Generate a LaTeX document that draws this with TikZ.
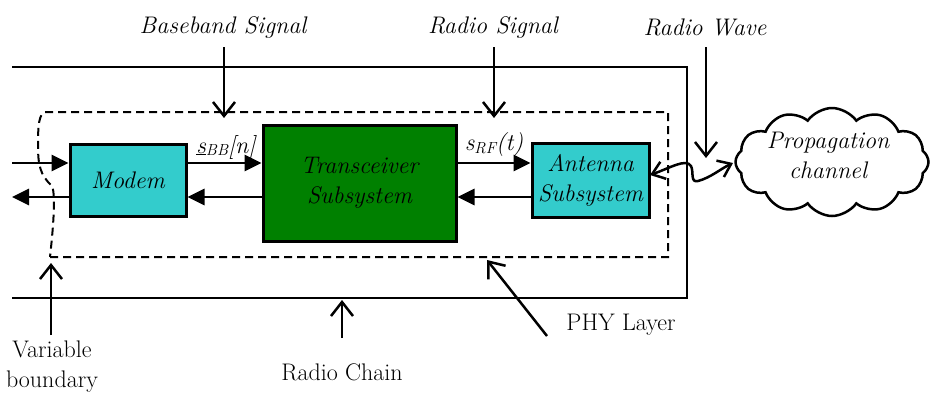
\documentclass[tikz,border=0pt]{standalone}
\usepackage{fontspec}
\usetikzlibrary{arrows.meta,shapes.symbols}
\definecolor{modemcyan}{HTML}{33CCCC}
\definecolor{trxgreen}{HTML}{008000}
\begin{document}
\begin{tikzpicture}[x=1pt,y=-1pt,
  font=\fontsize{24}{30}\selectfont,
  blk/.style={draw=black,line width=3pt,inner sep=0pt,align=center,font=\fontsize{24}{30}\selectfont\itshape},
  sig/.style={line width=2.8pt,-{Triangle[length=17pt,width=16pt]}},
  lbl/.style={line width=2.5pt,-{Straight Barb[length=14pt,width=22pt]}},
  txt/.style={inner sep=0pt,align=center},
  itxt/.style={inner sep=0pt,align=center,font=\fontsize{24}{30}\selectfont\itshape},
  phy/.style={line width=2pt,dash pattern=on 8pt off 5pt},
  chain/.style={line width=2.2pt},
  ]
\useasboundingbox (0,0) rectangle (931,394);
% radio chain
\coordinate (rcTL) at (12,67);
\coordinate (rcTR) at (687,67);
\coordinate (rcBR) at (687,298);
\coordinate (rcBL) at (12,298);
\draw[chain] (rcTL) -- (rcTR) -- (rcBR) -- (rcBL);
% PHY layer dashed boundary
\draw[phy] (50,257) -- (668,257) -- (668,112) -- (45,112)
  .. controls (39,114) and (38,125) .. (38,145)
  .. controls (38,165) and (40,175) .. (52,186)
  .. controls (56,195) and (53,230) .. (50,257);
% blocks
\node[blk,fill=modemcyan,minimum width=116pt,minimum height=72pt] (modem) at (128,180) {Modem};
\node[blk,fill=trxgreen,minimum width=193pt,minimum height=116pt] (trx) at (359.5,183) {Transceiver\\Subsystem};
\node[blk,fill=modemcyan,minimum width=117pt,minimum height=74pt] (ant) at (590.5,180) {Antenna\\Subsystem};
% signal arrows
\coordinate (inL) at (12,163);
\coordinate (outL) at (12,197);
\draw[sig] (inL) -- (inL -| modem.west);
\draw[sig] (outL -| modem.west) -- (outL);
\draw[sig] (modem.east |- inL) -- (trx.west |- inL);
\draw[sig] (trx.west |- outL) -- (modem.east |- outL);
\draw[sig] (trx.east |- inL) -- (ant.west |- inL);
\draw[sig] (ant.west |- outL) -- (trx.east |- outL);
% signal labels
\node[itxt] (sbb) at (226,147) {\underline{s}\raisebox{-0.25ex}{\fontsize{16}{16}\selectfont BB}[n]};
\node[itxt] (srf) at (494,145) {s\raisebox{-0.25ex}{\fontsize{16}{16}\selectfont RF}(t)};
% cloud
\node[cloud,draw,line width=2.5pt,cloud puffs=12,cloud puff arc=110,aspect=1.8,
  minimum width=193pt,minimum height=108pt,inner sep=0pt] (cloud) at (832,162) {};
\node[itxt] (cloudtxt) at (828,155) {Propagation\\channel};
% radio wave double arrow
\coordinate (wv1) at (650,175);
\coordinate (wv2) at (733,163);
\draw[line width=2.5pt,{Straight Barb[length=12pt,width=18pt]}-{Straight Barb[length=12pt,width=18pt]}]
  (wv1) .. controls (670,168) and (686,158) .. (691,166)
  .. controls (694,172) and (690,183) .. (698,181)
  .. controls (710,178) and (722,168) .. (wv2);
% top labels
\node[itxt] (bbsig) at (223,27) {Baseband Signal};
\node[itxt] (rsig) at (493,27) {Radio Signal};
\node[itxt] (rwave) at (705,27) {Radio Wave};
\coordinate (bbtip) at (224,118);
\coordinate (rstip) at (494,118);
\coordinate (rwtip) at (706,158);
\draw[lbl] (bbtip |- 0,47) -- (bbtip);
\draw[lbl] (rstip |- 0,47) -- (rstip);
\draw[lbl] (rwtip |- 0,47) -- (rwtip);
% bottom labels
\node[txt] (varb) at (52,367) {Variable\\boundary};
\node[txt] (rchain) at (342,372) {Radio Chain};
\node[txt] (phyl) at (621,325) {PHY Layer};
\coordinate (vbtip) at (51,263);
\coordinate (rctip) at (342,300);
\coordinate (phytip) at (487,260);
\draw[lbl] (51,335) -- (vbtip);
\draw[lbl] (342,338) -- (rctip);
\draw[lbl] (547,336) -- (phytip);
\end{tikzpicture}
\end{document}
